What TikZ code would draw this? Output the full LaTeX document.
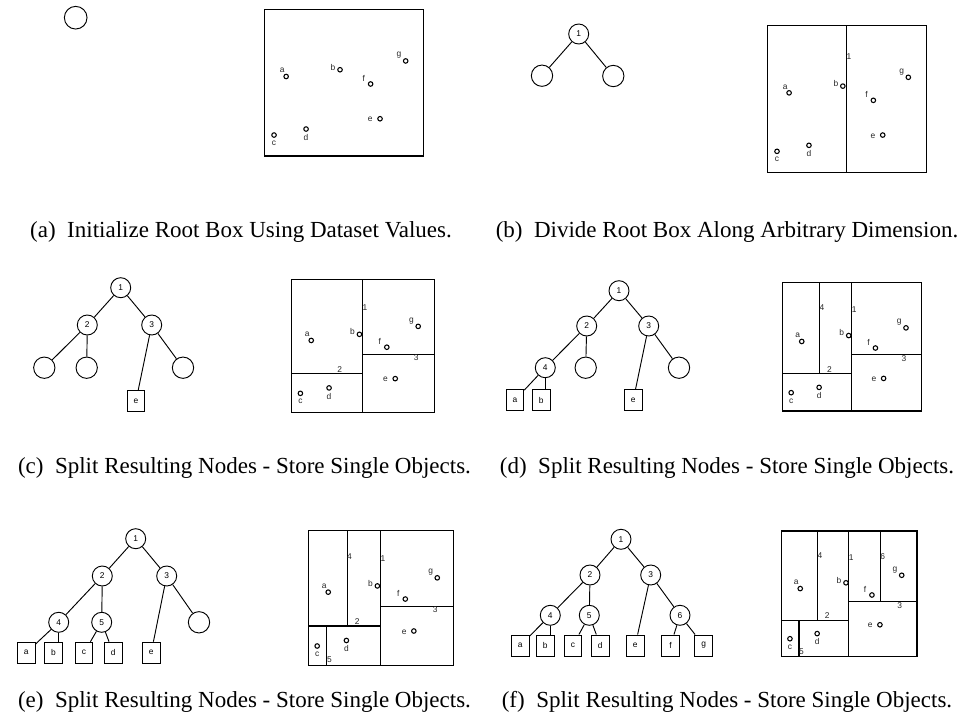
\documentclass[tikz,border=0pt]{standalone}
\usepackage{fontspec}
\setmainfont{Liberation Serif}
\newfontfamily\labfont{Liberation Sans}
\tikzset{
  tcirc/.style={circle,draw,line width=0.7pt,minimum size=15pt,inner sep=0pt,font=\labfont\fontsize{6.3}{7}\selectfont},
  tleaf/.style={circle,draw,line width=0.7pt,minimum size=16pt,inner sep=0pt},
  tbox/.style={rectangle,draw,line width=0.7pt,minimum width=13.2pt,minimum height=15.8pt,inner sep=0pt,font=\labfont\fontsize{6.3}{7}\selectfont},
  tedge/.style={line width=0.7pt},
  kbox/.style={line width=0.85pt},
  ksplit/.style={line width=0.8pt},
  dotpt/.style={circle,draw,line width=0.8pt,minimum size=3.4pt,inner sep=0pt},
  plab/.style={font=\labfont\fontsize{6.3}{7}\selectfont,inner sep=0pt,text=black!85},
  captext/.style={font=\fontsize{17.25}{20}\selectfont,anchor=base,inner sep=0pt}
}
\newcommand\kdpts[1]{%
  \node[dotpt] (#1pa) at (0.137,0.458) {};
  \node[plab] (#1la) at ([shift={(-3pt,4.5pt)}]#1pa.center) {a};
  \node[dotpt] (#1pb) at (0.475,0.412) {};
  \node[plab] (#1lb) at ([shift={(-5.2pt,2pt)}]#1pb.center) {b};
  \node[dotpt] (#1pc) at (0.061,0.857) {};
  \node[plab] (#1lc) at ([shift={(0pt,-6.2pt)}]#1pc.center) {c};
  \node[dotpt] (#1pd) at (0.262,0.816) {};
  \node[plab] (#1ld) at ([shift={(0pt,-6.2pt)}]#1pd.center) {d};
  \node[dotpt] (#1pe) at (0.726,0.746) {};
  \node[plab] (#1le) at ([shift={(-7.3pt,-0.7pt)}]#1pe.center) {e};
  \node[dotpt] (#1pf) at (0.667,0.509) {};
  \node[plab] (#1lf) at ([shift={(-5.2pt,4.3pt)}]#1pf.center) {f};
  \node[dotpt] (#1pg) at (0.887,0.352) {};
  \node[plab] (#1lg) at ([shift={(-5pt,4pt)}]#1pg.center) {g};
}
\begin{document}
\begin{tikzpicture}[x=0.75pt,y=-0.75pt]
\useasboundingbox (0,0) rectangle (965,726);

% ---------------- (a) ----------------
\node[tleaf,minimum size=17pt] (ar) at (75.7,17.7) {};
\begin{scope}[shift={(264.3,9.3)},x=119.55pt,y=-110.03pt]
  \draw[kbox] (0,0) rectangle (1,1);
  \kdpts{a}
\end{scope}
\node[captext] (capa) at (241,237) {(a)\enspace Initialize Root Box Using Dataset Values.};

% ---------------- (b) ----------------
\node[tcirc] (b1) at (578.7,34) {1};
\node[tleaf] (bl) at (542,75.7) {};
\node[tleaf] (br) at (613.3,76) {};
\draw[tedge] (b1) -- (bl);
\draw[tedge] (b1) -- (br);
\begin{scope}[shift={(767.3,25.7)},x=119.25pt,y=-109.95pt]
  \draw[kbox] (0,0) rectangle (1,1);
  \draw[ksplit] (0.497,0) -- (0.497,1);
  \node[plab] (bs1) at (0.514,0.21) {1};
  \kdpts{b}
\end{scope}
\node[captext] (capb) at (727,237) {(b)\enspace Divide Root Box Along Arbitrary Dimension.};

% ---------------- (c) ----------------
\node[tcirc] (c1) at (120.7,287.7) {1};
\node[tcirc] (c2) at (87.3,325) {2};
\node[tcirc] (c3) at (151.7,325) {3};
\node[tleaf] (cl1) at (44.3,367.7) {};
\node[tleaf] (cl2) at (86.7,367.7) {};
\node[tleaf] (cl3) at (183,367.7) {};
\node[tbox] (ce) at (136,400.8) {e};
\draw[tedge] (c1) -- (c2);
\draw[tedge] (c1) -- (c3);
\draw[tedge] (c2) -- (cl1);
\draw[tedge] (c2) -- (cl2);
\draw[tedge] (c3) -- (ce);
\draw[tedge] (c3) -- (cl3);
\begin{scope}[shift={(291.7,279.7)},x=106.95pt,y=-99.45pt]
  \draw[kbox] (0,0) rectangle (1,1);
  \draw[ksplit] (0.497,0) -- (0.497,1);
  \draw[ksplit] (0,0.709) -- (0.497,0.709);
  \draw[ksplit] (0.497,0.562) -- (1,0.562);
  \node[plab] (cs1) at (0.514,0.21) {1};
  \node[plab] (cs2) at (0.337,0.675) {2};
  \node[plab] (cs3) at (0.873,0.59) {3};
  \kdpts{c}
\end{scope}
\node[captext] (capc) at (244.5,473.3) {(c)\enspace Split Resulting Nodes - Store Single Objects.};

% ---------------- (d) ----------------
\node[tcirc] (d1) at (619,290.7) {1};
\node[tcirc] (d2) at (586.7,326) {2};
\node[tcirc] (d3) at (648.7,326) {3};
\node[tcirc] (d4) at (545.3,367.7) {4};
\node[tleaf] (dl1) at (585.7,367.7) {};
\node[tleaf] (dl2) at (679,367.7) {};
\node[tbox] (da) at (515,400) {a};
\node[tbox] (db) at (541.2,400) {b};
\node[tbox] (de) at (633.3,400) {e};
\draw[tedge] (d1) -- (d2);
\draw[tedge] (d1) -- (d3);
\draw[tedge] (d2) -- (d4);
\draw[tedge] (d2) -- (dl1);
\draw[tedge] (d3) -- (de);
\draw[tedge] (d3) -- (dl2);
\draw[tedge] (d4) -- (da);
\draw[tedge] (d4) -- (d4 |- db.north);
\begin{scope}[shift={(782.7,282.7)},x=104.25pt,y=-96.23pt]
  \draw[kbox] (0,0) rectangle (1,1);
  \draw[ksplit] (0.497,0) -- (0.497,1);
  \draw[ksplit] (0,0.709) -- (0.497,0.709);
  \draw[ksplit] (0.497,0.562) -- (1,0.562);
  \draw[ksplit] (0.267,0) -- (0.267,0.709);
  \node[plab] (ds1) at (0.514,0.21) {1};
  \node[plab] (ds2) at (0.337,0.675) {2};
  \node[plab] (ds3) at (0.873,0.59) {3};
  \node[plab] (ds4) at (0.283,0.195) {4};
  \kdpts{d}
\end{scope}
\node[captext] (capd) at (727,473.3) {(d)\enspace Split Resulting Nodes - Store Single Objects.};

% ---------------- (e) ----------------
\node[tcirc] (e1) at (135.7,538.7) {1};
\node[tcirc] (e2) at (102.3,576) {2};
\node[tcirc] (e3) at (166.7,576) {3};
\node[tcirc] (e4) at (58.7,622.3) {4};
\node[tcirc] (e5) at (101.7,622.3) {5};
\node[tleaf] (el1) at (199,622.3) {};
\node[tbox] (ea) at (26.3,652.7) {a};
\node[tbox] (eb) at (53.5,652.7) {b};
\node[tbox] (ec) at (84,652.7) {c};
\node[tbox] (ed) at (113.2,652.7) {d};
\node[tbox] (ee) at (151.2,652.7) {e};
\draw[tedge] (e1) -- (e2);
\draw[tedge] (e1) -- (e3);
\draw[tedge] (e2) -- (e4);
\draw[tedge] (e2) -- (e5);
\draw[tedge] (e3) -- (ee);
\draw[tedge] (e3) -- (el1);
\draw[tedge] (e4) -- (ea);
\draw[tedge] (e4) -- (e4 |- eb.north);
\draw[tedge] (e5) -- (ec);
\draw[tedge] (e5) -- (ed);
\begin{scope}[shift={(308.3,530.3)},x=109.05pt,y=-101.25pt]
  \draw[kbox] (0,0) rectangle (1,1);
  \draw[ksplit] (0.497,0) -- (0.497,1);
  \draw[ksplit] (0,0.709) -- (0.497,0.709);
  \draw[ksplit] (0.497,0.562) -- (1,0.562);
  \draw[ksplit] (0.267,0) -- (0.267,0.709);
  \draw[ksplit] (0.128,0.709) -- (0.128,1);
  \node[plab] (es1) at (0.514,0.21) {1};
  \node[plab] (es2) at (0.337,0.675) {2};
  \node[plab] (es3) at (0.873,0.59) {3};
  \node[plab] (es4) at (0.283,0.195) {4};
  \node[plab] (es5) at (0.146,0.96) {5};
  \kdpts{e}
\end{scope}
\node[captext] (cape) at (244.5,707.3) {(e)\enspace Split Resulting Nodes - Store Single Objects.};

% ---------------- (f) ----------------
\node[tcirc] (f1) at (621,539.3) {1};
\node[tcirc] (f2) at (590,575) {2};
\node[tcirc] (f3) at (650.7,575) {3};
\node[tcirc] (f4) at (550.3,615.3) {4};
\node[tcirc] (f5) at (589.3,615.3) {5};
\node[tcirc] (f6) at (680,615.3) {6};
\node[tbox] (fa) at (520.2,645.5) {a};
\node[tbox] (fb) at (545.3,645.5) {b};
\node[tbox] (fc) at (573,645.5) {c};
\node[tbox] (fd) at (600.3,645.5) {d};
\node[tbox] (fe) at (635.2,645.5) {e};
\node[tbox] (ff) at (670.5,645.5) {f};
\node[tbox] (fg) at (703.7,645.5) {g};
\draw[tedge] (f1) -- (f2);
\draw[tedge] (f1) -- (f3);
\draw[tedge] (f2) -- (f4);
\draw[tedge] (f2) -- (f5);
\draw[tedge] (f3) -- (fe);
\draw[tedge] (f3) -- (f6);
\draw[tedge] (f4) -- (fa);
\draw[tedge] (f4) -- (f4 |- fb.north);
\draw[tedge] (f5) -- (fc);
\draw[tedge] (f5) -- (fd);
\draw[tedge] (f6) -- (ff);
\draw[tedge] (f6) -- (fg);
\begin{scope}[shift={(781.7,531)},x=101.48pt,y=-94.28pt]
  \draw[kbox] (0,0) rectangle (1,1);
  \draw[ksplit] (0.497,0) -- (0.497,1);
  \draw[ksplit] (0,0.709) -- (0.497,0.709);
  \draw[ksplit] (0.497,0.562) -- (1,0.562);
  \draw[ksplit] (0.267,0) -- (0.267,0.709);
  \draw[ksplit] (0.128,0.709) -- (0.128,1);
  \draw[ksplit] (0.729,0) -- (0.729,0.562);
  \node[plab] (fs1) at (0.514,0.21) {1};
  \node[plab] (fs2) at (0.337,0.675) {2};
  \node[plab] (fs3) at (0.873,0.59) {3};
  \node[plab] (fs4) at (0.283,0.195) {4};
  \node[plab] (fs5) at (0.146,0.96) {5};
  \node[plab] (fs6) at (0.747,0.2) {6};
  \kdpts{f}
\end{scope}
\node[captext] (capf) at (727,707.3) {(f)\enspace Split Resulting Nodes - Store Single Objects.};
\end{tikzpicture}
\end{document}
